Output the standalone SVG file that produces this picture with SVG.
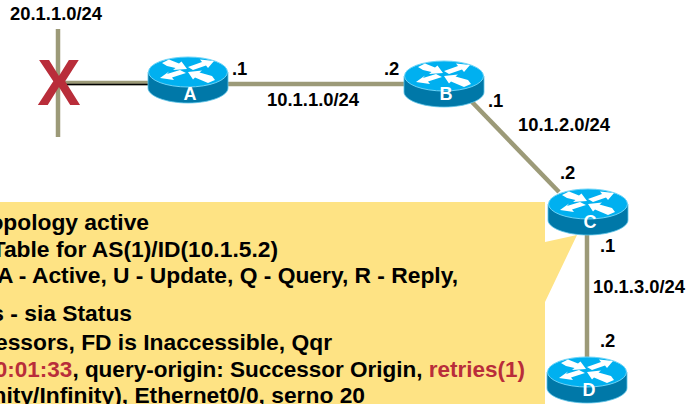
<svg xmlns="http://www.w3.org/2000/svg" width="687" height="404" viewBox="0 0 687 404">
<style>
text{font-family:"Liberation Sans",Arial,sans-serif;font-weight:bold;fill:#000}
.l{font-size:18.4px}
.c{font-size:22.8px;text-anchor:end}
.r{fill:#b92d3a}
.n{font-size:18px;fill:#fff;text-anchor:middle}
.link{stroke:#9c9a78;stroke-width:4.5;fill:none}
</style>
<defs>
<g id="router">
<path d="M-40 0V16C-40 24-22 31 0 31S40 24 40 16V0Z" fill="#0078a8" stroke="#5cc4e8" stroke-width=".8"/>
<ellipse cx="0" cy="0" rx="39.5" ry="15" fill="#00b0f0" stroke="#6cd4f8" stroke-width="1"/>
<g fill="#fff">
<polygon points="-26,-9 -19,-12.500 -9,-8.500 -6.500,-10.500 -1,-3 -15,-2 -12.500,-4 -21,-6"/>
<polygon points="26,-11 12,-12.500 14,-10 0,-5 5,-2 18,-6.500 20,-4"/>
<polygon points="-28,6 -14,8 -16,5.500 -2,1 -8,-2 -21,2 -19,-.5"/>
<polygon points="27,8 20,11 7,5.500 5,7.500 0,0 14,-1.500 11.500,.5 24,4"/>
</g>
</g>
</defs>
<g id="callout"><polygon points="0,202 545,202 545,242 577,235 545,302 545,404 0,404" fill="#fee384"/>
<text class="c" x="149" y="230">opology active</text>
<text class="c" x="278" y="257">Table for AS(1)/ID(10.1.5.2)</text>
<text class="c" x="458" y="283">A - Active, U - Update, Q - Query, R - Reply,</text>
<text class="c" x="132" y="321">s - sia Status</text>
<text class="c" x="332" y="350">essors, FD is Inaccessible, Qqr</text>
<text class="c" x="525" y="377" style="font-size:22.5px"><tspan class="r">0:01:33</tspan>, query-origin: Successor Origin, <tspan class="r">retries(1)</tspan></text>
<text class="c" x="365" y="403">nity/Infinity), Ethernet0/0, serno 20</text></g>
<g id="connectors">
<path class="link" d="M58 29V137"/>
<path class="link" d="M58 83H148"/>
<path d="M58 84.500H148" stroke="#000" stroke-width="1.500"/>
<path class="link" d="M228 84H404"/>
<path class="link" d="M472 102L559 192"/>
<path class="link" d="M587 234V357"/>
</g>
<g id="failure"><text x="59" y="105" font-size="65" text-anchor="middle" style="fill:#b92d3a">X</text></g>
<g id="node-a"><use href="#router" x="188" y="72"/><text class="n" x="190" y="100">A</text></g>
<g id="node-b"><use href="#router" x="444" y="76"/><text class="n" x="446" y="100">B</text></g>
<g id="node-c"><use href="#router" x="588" y="204"/><text class="n" x="590" y="228">C</text></g>
<g id="node-d"><use href="#router" x="587" y="372"/><text class="n" x="589" y="396">D</text></g>
<g id="labels">
<text class="l" x="10" y="20">20.1.1.0/24</text>
<text class="l" x="232" y="75">.1</text>
<text class="l" x="384" y="75">.2</text>
<text class="l" x="267" y="106">10.1.1.0/24</text>
<text class="l" x="488" y="107">.1</text>
<text class="l" x="518" y="131">10.1.2.0/24</text>
<text class="l" x="560" y="179">.2</text>
<text class="l" x="600" y="252">.1</text>
<text class="l" x="593" y="293">10.1.3.0/24</text>
<text class="l" x="600" y="347">.2</text>
</g>
</svg>
